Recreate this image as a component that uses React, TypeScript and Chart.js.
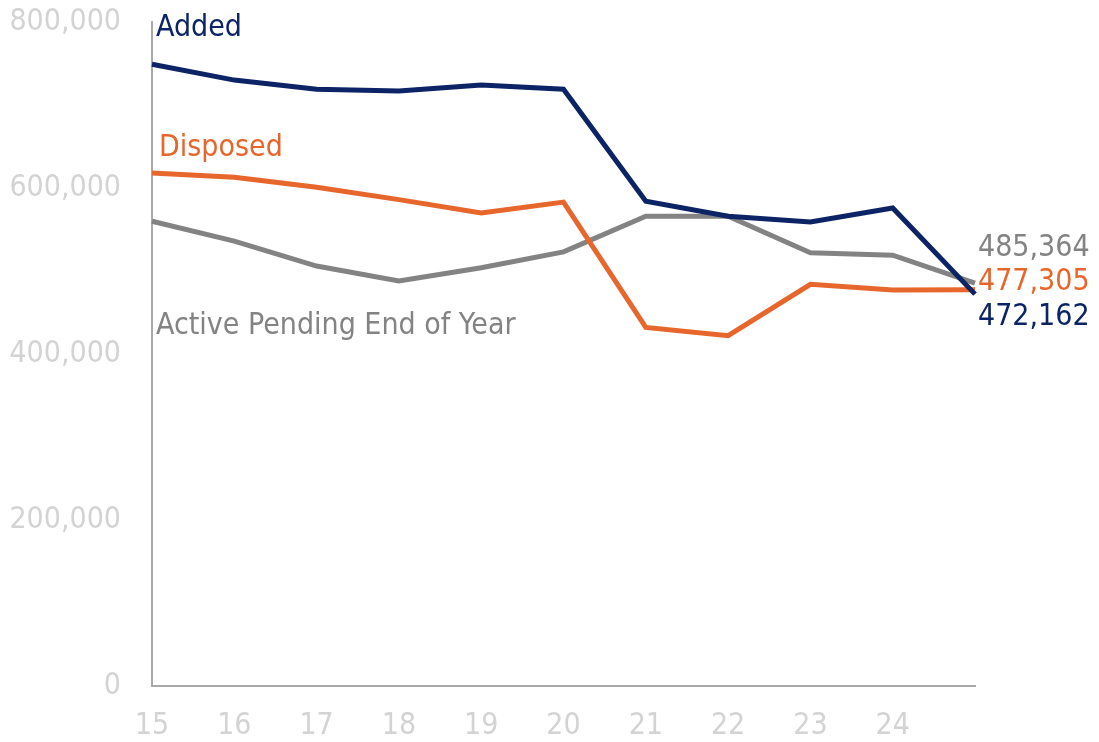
import React, { useEffect, useRef } from "react";
import { Chart, registerables } from "chart.js";

Chart.register(...registerables);

const years = ["15", "16", "17", "18", "19", "20", "21", "22", "23", "24", ""];
const added = [749000, 730000, 719000, 717000, 724000, 719000, 584000, 566000, 559000, 576000, 472162];
const disposed = [618000, 613000, 601000, 586000, 570000, 583000, 432000, 422000, 484000, 477000, 477305];
const pending = [560000, 536000, 506000, 488000, 504000, 523000, 566000, 566000, 522000, 519000, 485364];
const endLabels = ["485,364", "477,305", "472,162"];
const seriesNames = ["Added", "Disposed", "Active Pending End of Year"];

const NAVY = "#0c2466";
const ORANGE = "#e6662c";
const GRAY = "#838383";
const TICK = "#d3d3d3";
const AXIS = "#a9a9a9";
const FONT = "'DejaVu Sans Condensed', 'DejaVu Sans', sans-serif";
const FS = 30;

const labelPlugin = {
  id: "labels",
  afterDatasetsDraw(chart: any) {
    const { ctx, chartArea } = chart;
    const xs = chart.scales.x;
    ctx.save();
    ctx.font = `${FS}px ${FONT}`;
    ctx.textBaseline = "middle";
    ctx.textAlign = "left";
    const left = chartArea.left;
    ctx.fillStyle = NAVY;
    ctx.fillText(seriesNames[0], left + 4, 28);
    ctx.fillStyle = ORANGE;
    ctx.fillText(seriesNames[1], left + 7, 148);
    ctx.fillStyle = GRAY;
    ctx.fillText(seriesNames[2], left + 4, 326);
    const lx = xs.getPixelForValue(years.length - 1) + 3;
    ctx.fillStyle = GRAY;
    ctx.fillText(endLabels[0], lx, 248);
    ctx.fillStyle = ORANGE;
    ctx.fillText(endLabels[1], lx, 282);
    ctx.fillStyle = NAVY;
    ctx.fillText(endLabels[2], lx, 317);
    ctx.restore();
  },
};

export default function App() {
  const ref = useRef<HTMLCanvasElement>(null);
  useEffect(() => {
    if (!ref.current) return;
    const chart = new Chart(ref.current, {
      type: "line",
      data: {
        labels: years,
        datasets: [
          { label: "Added", data: added, borderColor: NAVY, order: 1 },
          { label: "Disposed", data: disposed, borderColor: ORANGE, order: 2 },
          { label: "Pending", data: pending, borderColor: GRAY, order: 3 },
        ].map((d) => ({
          ...d,
          borderWidth: 5,
          pointRadius: 0,
          tension: 0,
          fill: false,
          borderJoinStyle: "miter" as const,
        })),
      },
      options: {
        animation: false,
        responsive: false,
        maintainAspectRatio: false,
        layout: { padding: { top: 0, right: 124, left: 0, bottom: 0 } },
        plugins: { legend: { display: false }, tooltip: { enabled: false } },
        scales: {
          x: {
            offset: false,
            grid: { display: false, drawTicks: false },
            border: { display: true, color: AXIS, width: 2 },
            ticks: {
              color: TICK,
              font: { family: FONT, size: FS },
              padding: 22,
              maxRotation: 0,
              autoSkip: false,
            },
            afterFit: (s: any) => {
              s.height = 56;
            },
          },
          y: {
            min: 0,
            max: 800000,
            grid: { display: false, drawTicks: false },
            border: { display: true, color: AXIS, width: 2 },
            ticks: {
              stepSize: 200000,
              color: TICK,
              font: { family: FONT, size: FS },
              padding: 31,
              callback: (v: any) => Number(v).toLocaleString("en-US"),
            },
            afterFit: (s: any) => {
              s.width = 152;
              s.paddingTop = 22;
            },
          },
        },
      },
      plugins: [labelPlugin],
    });
    return () => chart.destroy();
  }, []);
  return (
    <div style={{ position: "absolute", left: 0, top: 0, width: 1099, height: 742, background: "#fff" }}>
      <canvas ref={ref} width={1099} height={742} style={{ display: "block" }} />
    </div>
  );
}
